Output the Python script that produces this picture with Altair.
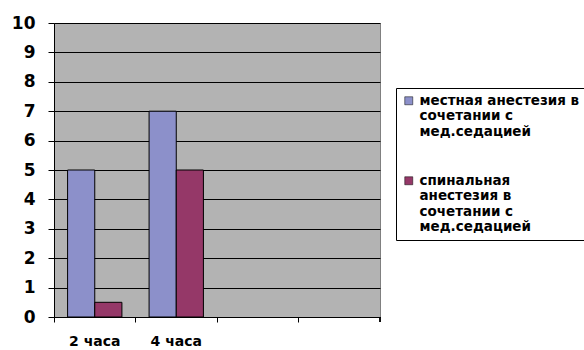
import json
import altair as alt
import pandas as pd

categories = ["2 часа", "4 часа", "", " "]
series = [
    "местная анестезия в сочетании с мед.седацией",
    "спинальная анестезия в сочетании с мед.седацией",
]
series_lines = [
    ["местная анестезия в", "сочетании с", "мед.седацией"],
    ["спинальная", "анестезия в", "сочетании с", "мед.седацией"],
]
local_values = [5, 7]
spinal_values = [0.5, 5]
colors = ["#8C90CA", "#953868"]
y_ticks = list(range(0, 11))

rows = []
for c, v in zip(categories, local_values):
    rows.append({"time": c, "series": series[0], "value": v})
for c, v in zip(categories, spinal_values):
    rows.append({"time": c, "series": series[1], "value": v})
df = pd.DataFrame(rows)

label_expr = "datum.label == {} ? {} : {}".format(
    json.dumps(series[0], ensure_ascii=False),
    json.dumps(series_lines[0], ensure_ascii=False),
    json.dumps(series_lines[1], ensure_ascii=False),
)

FONT = "DejaVu Sans"
W, H = 326, 294

bars = alt.Chart(df).mark_bar(stroke="black", strokeWidth=1).encode(
    x=alt.X(
        "time:N",
        sort=categories,
        scale=alt.Scale(domain=categories, paddingInner=0, paddingOuter=0),
        axis=alt.Axis(
            title=None, bandPosition=0, labelAngle=0,
            tickSize=5, labelPadding=12, domainColor="black", tickColor="black",
            labelFont=FONT, labelFontSize=14, labelFontWeight="bold",
            labelColor="black", grid=False, labelAlign="center",
        ),
    ),
    xOffset=alt.XOffset(
        "series:N", scale=alt.Scale(domain=series, paddingOuter=0.5, paddingInner=0)
    ),
    y=alt.Y(
        "value:Q",
        scale=alt.Scale(domain=[0, 10], nice=False),
        axis=alt.Axis(
            title=None, values=y_ticks, tickSize=6, labelPadding=13,
            grid=True, gridColor="black", gridOpacity=1, domainColor="black",
            tickColor="black", labelFont=FONT, labelFontSize=17,
            labelFontWeight="bold", labelColor="black",
        ),
    ),
    color=alt.Color(
        "series:N",
        scale=alt.Scale(domain=series, range=colors),
        legend=alt.Legend(
            title=None, orient="none", legendX=342, legendY=65,
            strokeColor="black", fillColor="white", padding=6,
            symbolType="square", symbolSize=64, symbolStrokeColor="black",
            symbolStrokeWidth=0.5, labelFont=FONT, labelFontSize=13.5,
            labelFontWeight="bold", labelColor="black", labelLimit=400,
            labelOffset=4, rowPadding=34, labelExpr=label_expr,
        ),
    ),
)

end_tick = alt.Chart(df).mark_rule(color="black").encode(
    x=alt.value(W), y=alt.value(H), y2=alt.value(H + 5)
)

chart = (
    alt.layer(bars, end_tick)
    .properties(
        width=W, height=H,
        autosize=alt.AutoSizeParams(type="none"),
        padding={"left": 54, "top": 23, "right": 204, "bottom": 33},
        background="white",
    )
    .configure_view(fill="#B3B3B3", stroke="#808080")
)

chart.save("out.html", embed_options={"renderer": "svg", "actions": False})
